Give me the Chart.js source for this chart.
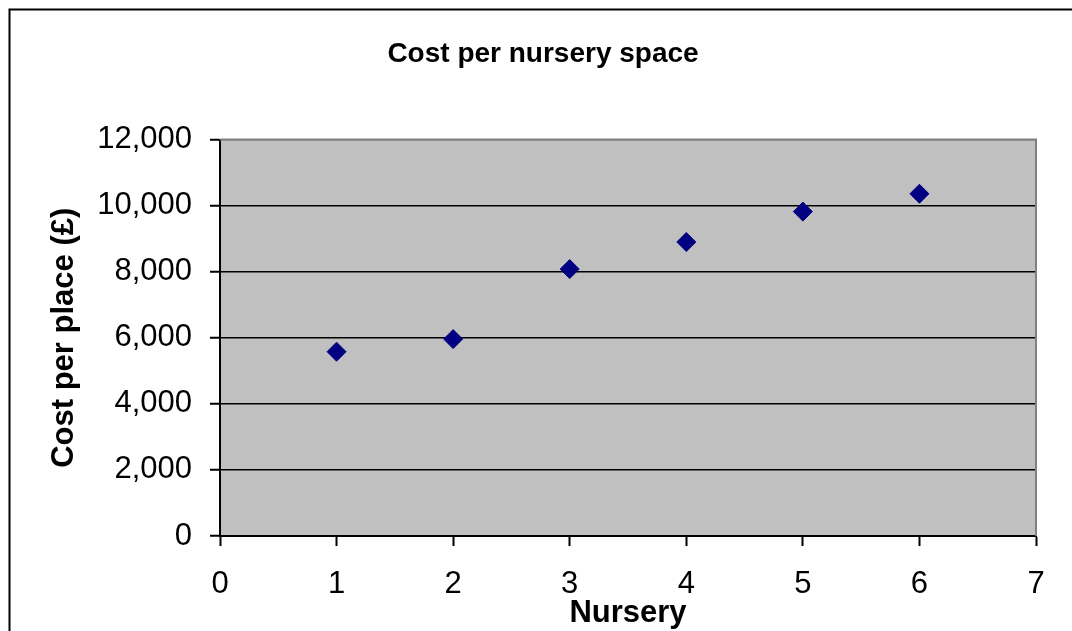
<!DOCTYPE html>
<html>
<head>
<meta charset="utf-8">
<title>Cost per nursery space</title>
<script src="https://cdn.jsdelivr.net/npm/chart.js@4/dist/chart.umd.min.js"></script>
<style>
  html, body { margin: 0; padding: 0; background: #ffffff; }
  #wrap { width: 1072px; height: 631px; }
</style>
</head>
<body>
<div id="wrap"><canvas id="chart" width="1072" height="631"></canvas></div>
<script>
// Nursery numbers and cost per place (£)
const nurseries = [1, 2, 3, 4, 5, 6];
const costPerPlace = [5580, 5960, 8080, 8900, 9820, 10360];
const yTicks = [0, 2000, 4000, 6000, 8000, 10000, 12000];
const xTicks = [0, 1, 2, 3, 4, 5, 6, 7];

const FONT = 'Liberation Sans, Arial, Helvetica, sans-serif';

// Outer frame, grey plot background and the grey top/right plot edge
const framePlugin = {
  id: 'frame',
  beforeDraw(chart) {
    const ctx = chart.ctx;
    const a = chart.chartArea;
    ctx.save();
    ctx.fillStyle = '#ffffff';
    ctx.fillRect(0, 0, chart.width, chart.height);
    ctx.strokeStyle = '#000000';
    ctx.lineWidth = 2;
    ctx.strokeRect(9.5, 9.5, chart.width + 40, chart.height + 40);
    ctx.fillStyle = '#c0c0c0';
    ctx.fillRect(a.left, a.top, a.right - a.left, a.bottom - a.top);
    ctx.restore();
  },
  beforeDatasetsDraw(chart) {
    const ctx = chart.ctx;
    const a = chart.chartArea;
    ctx.save();
    ctx.strokeStyle = '#808080';
    ctx.lineWidth = 2;
    ctx.beginPath();
    ctx.moveTo(a.left, a.top);
    ctx.lineTo(a.right, a.top);
    ctx.lineTo(a.right, a.bottom);
    ctx.stroke();
    ctx.restore();
  }
};

new Chart(document.getElementById('chart'), {
  type: 'scatter',
  data: {
    datasets: [{
      label: 'Cost per place (£)',
      data: nurseries.map((n, i) => ({ x: n, y: costPerPlace[i] })),
      pointStyle: 'rectRot',
      pointRadius: 9.5,
      pointHoverRadius: 9.5,
      backgroundColor: '#000080',
      borderColor: '#000080',
      borderWidth: 1
    }]
  },
  options: {
    responsive: false,
    devicePixelRatio: 1,
    animation: false,
    layout: { padding: { left: 50, right: 36, top: 0, bottom: 0 } },
    plugins: {
      legend: { display: false },
      tooltip: { enabled: false },
      title: {
        display: true,
        text: 'Cost per nursery space',
        color: '#000000',
        font: { family: FONT, size: 28, weight: 'bold', lineHeight: 1.2 },
        padding: { top: 37, bottom: 69 }
      }
    },
    scales: {
      x: {
        type: 'linear',
        min: 0,
        max: 7,
        afterBuildTicks(scale) { scale.ticks = xTicks.map(v => ({ value: v })); },
        afterFit(scale) { scale.height = 95; },
        ticks: {
          color: '#000000',
          font: { family: FONT, size: 31 },
          padding: 20,
          maxRotation: 0,
          autoSkip: false
        },
        grid: {
          drawOnChartArea: false,
          drawTicks: true,
          tickLength: 10,
          tickColor: '#000000',
          tickWidth: 2
        },
        border: { display: true, color: '#000000', width: 2 },
        title: {
          display: true,
          text: 'Nursery',
          color: '#000000',
          font: { family: FONT, size: 31, weight: 'bold', lineHeight: 1.2 },
          padding: { top: 0, bottom: -1 }
        }
      },
      y: {
        type: 'linear',
        min: 0,
        max: 12000,
        afterBuildTicks(scale) { scale.ticks = yTicks.map(v => ({ value: v })); },
        afterFit(scale) { scale.width = 170; },
        ticks: {
          color: '#000000',
          font: { family: FONT, size: 31 },
          padding: 18,
          callback: v => Number(v).toLocaleString('en-US')
        },
        grid: {
          drawOnChartArea: true,
          drawTicks: true,
          tickLength: 10,
          tickColor: '#000000',
          tickWidth: 2,
          lineWidth: 1.5,
          color: ctx => (ctx.tick && ctx.tick.value === 12000) ? '#808080' : '#000000'
        },
        border: { display: true, color: '#000000', width: 2 },
        title: {
          display: true,
          text: 'Cost per place (£)',
          color: '#000000',
          font: { family: FONT, size: 31, weight: 'bold', lineHeight: 1.2 },
          padding: { top: -4, bottom: 0 }
        }
      }
    }
  },
  plugins: [framePlugin]
});
</script>
</body>
</html>
